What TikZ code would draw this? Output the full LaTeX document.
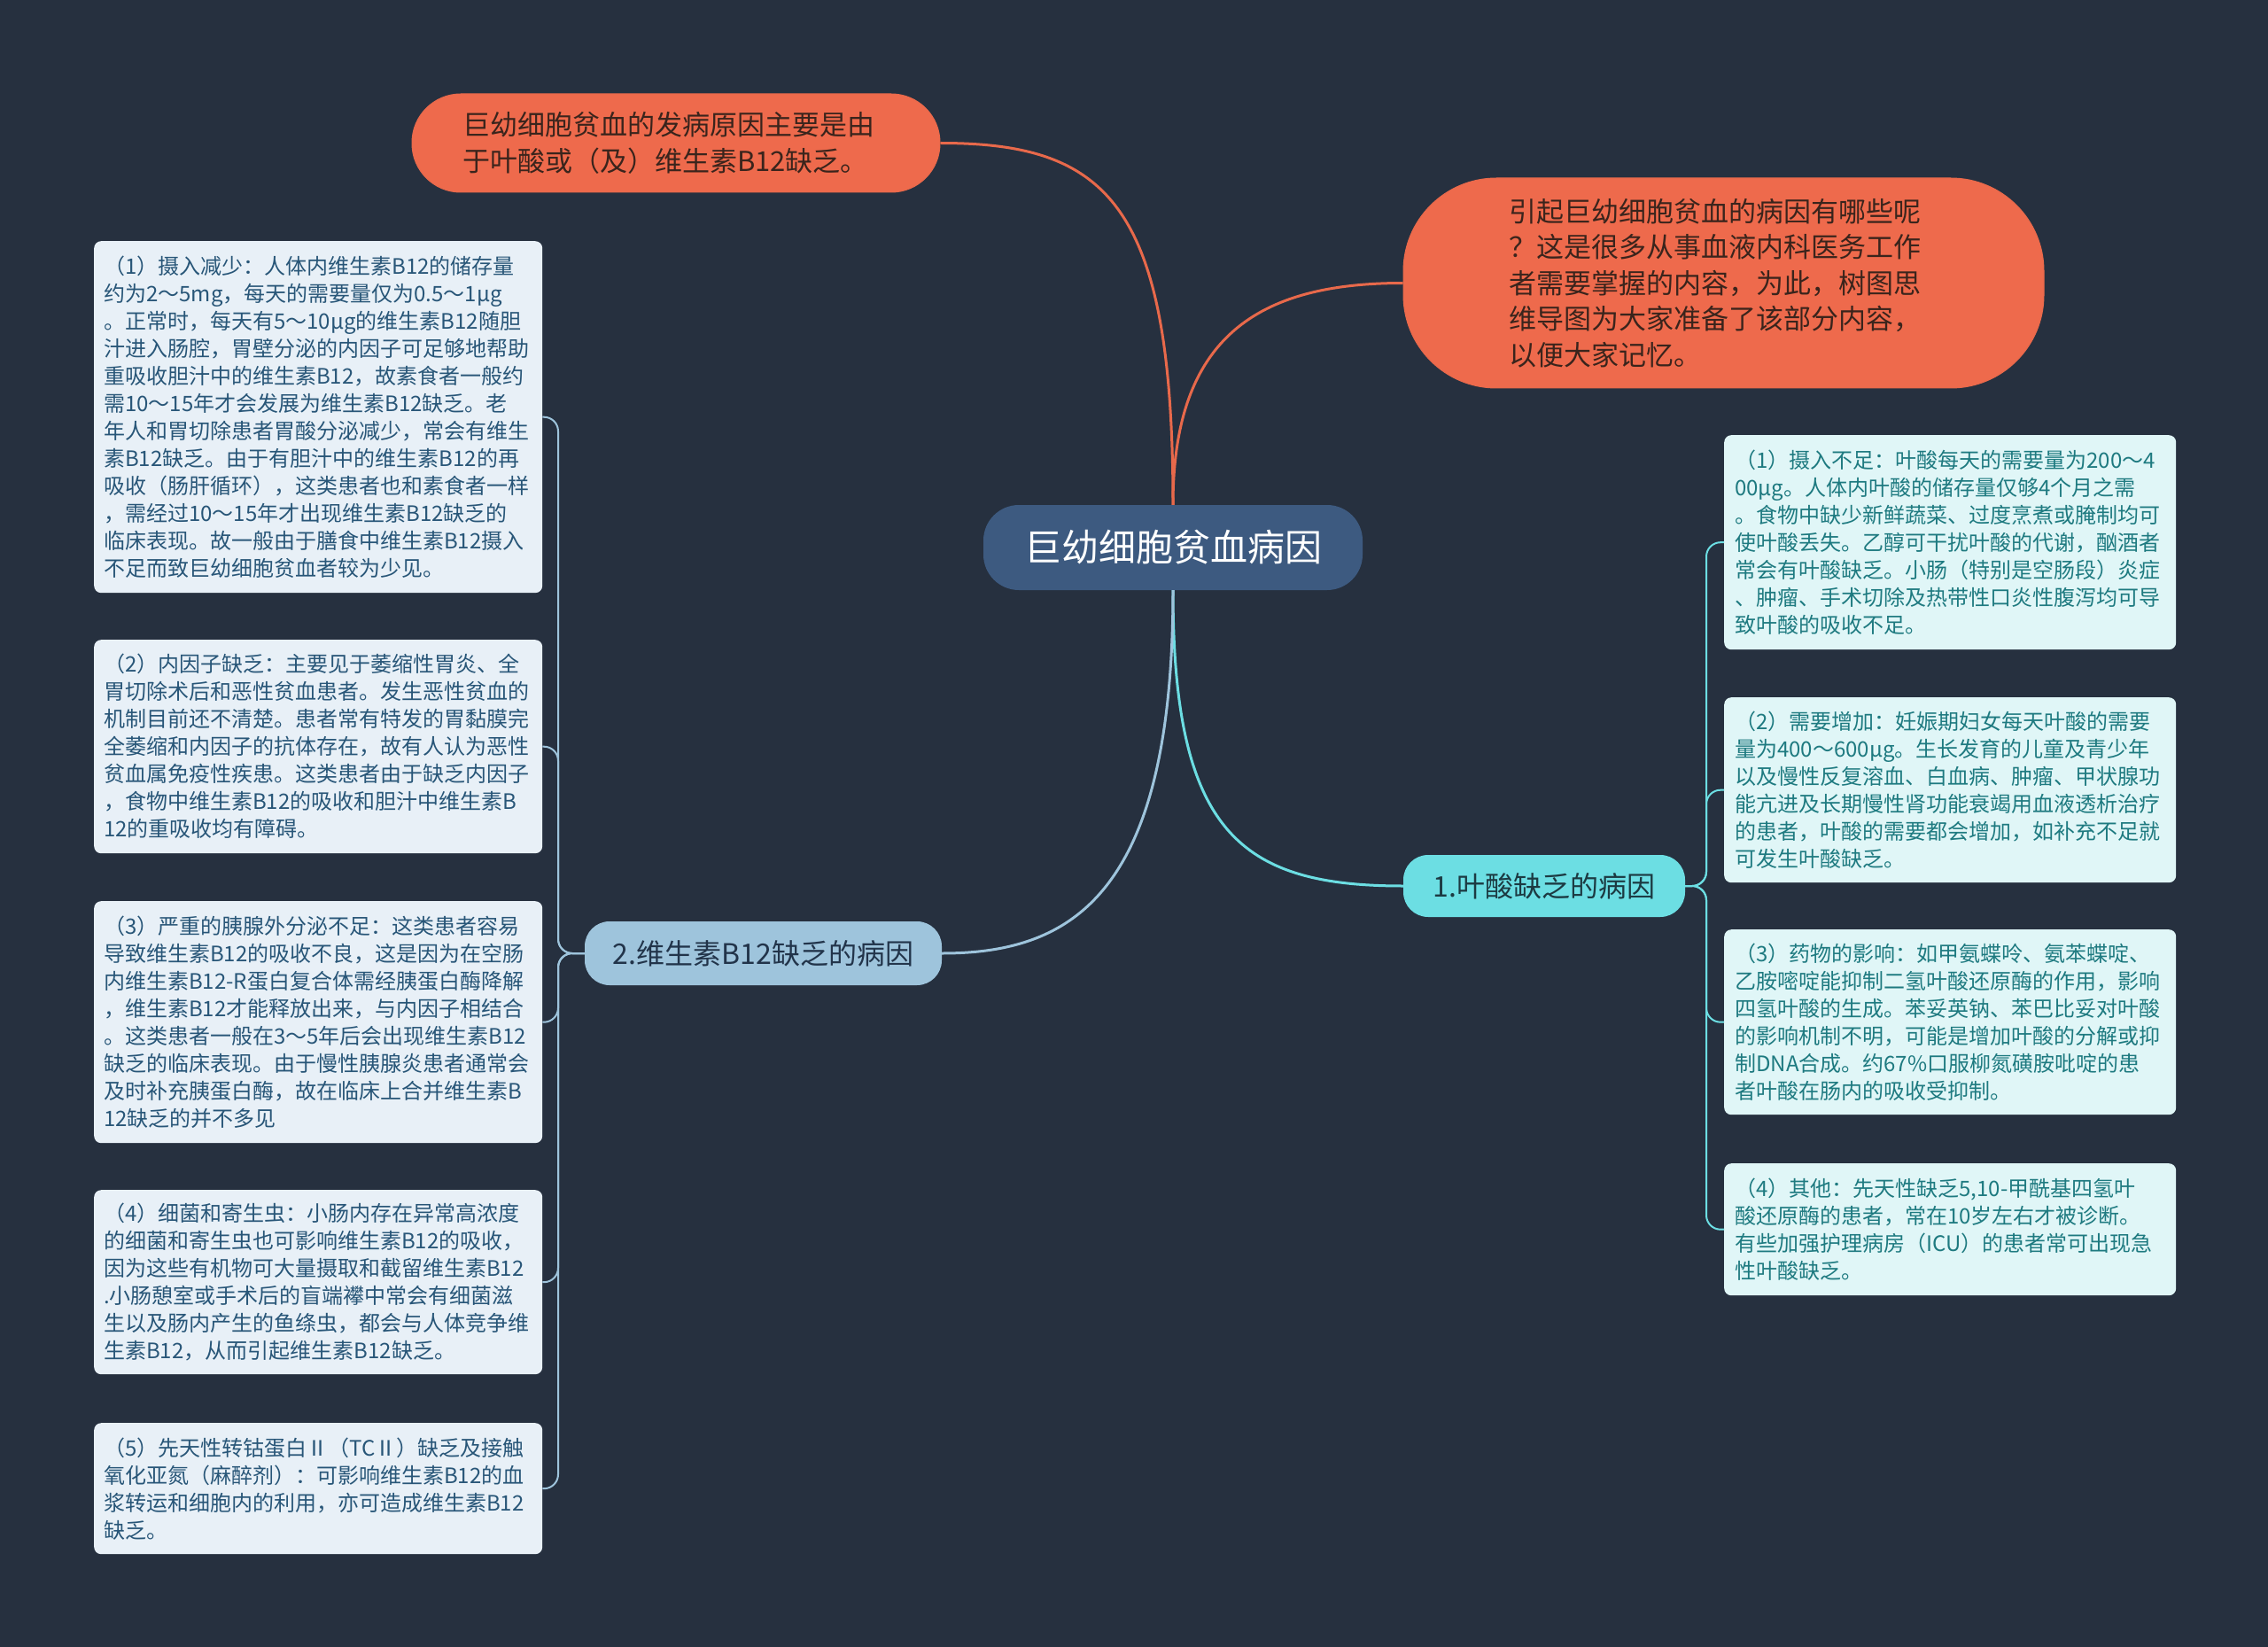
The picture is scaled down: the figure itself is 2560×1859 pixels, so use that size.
\documentclass[tikz,border=0pt]{standalone}
\usepackage{fontspec}
\setmainfont{Noto Sans CJK SC}
\definecolor{bg}{RGB}{38,48,63}
\definecolor{cnode}{RGB}{61,90,128}
\definecolor{onode}{RGB}{238,106,76}
\definecolor{otext}{RGB}{58,36,28}
\definecolor{cyannode}{RGB}{108,222,227}
\definecolor{cyantext}{RGB}{28,58,66}
\definecolor{bluenode}{RGB}{158,196,220}
\definecolor{bluetext}{RGB}{34,52,74}
\definecolor{lfill}{RGB}{232,240,247}
\definecolor{ltext}{RGB}{40,86,120}
\definecolor{rfill}{RGB}{224,246,247}
\definecolor{rtext}{RGB}{30,122,128}
\definecolor{oline}{RGB}{232,105,75}
\definecolor{cline}{RGB}{108,222,227}
\definecolor{bline}{RGB}{158,196,220}
\begin{document}
\begin{tikzpicture}[x=1pt,y=-1pt,
  central/.style={rectangle, rounded corners=40pt, fill=cnode, minimum width=428pt, minimum height=96pt, inner sep=0pt, text=white, font=\fontsize{42}{49}\selectfont},
  orangebox/.style={rectangle, fill=onode, draw=oline, line width=1pt, text=otext, align=left, inner ysep=0pt, font=\fontsize{31}{40.5}\selectfont},
  cyanbox/.style={rectangle, rounded corners=28pt, fill=cyannode, minimum width=318pt, minimum height=70pt, inner sep=0pt, text=cyantext, font=\fontsize{32}{40}\selectfont},
  bluebox/.style={rectangle, rounded corners=28pt, fill=bluenode, minimum width=403pt, minimum height=72pt, inner sep=0pt, text=bluetext, font=\fontsize{32}{40}\selectfont},
  leftbox/.style={rectangle, rounded corners=8pt, fill=lfill, text=ltext, anchor=north west, inner xsep=11pt, inner ysep=0pt, text width=484pt, align=left, font=\fontsize{24}{31}\selectfont},
  rightbox/.style={rectangle, rounded corners=8pt, fill=rfill, text=rtext, anchor=north west, inner xsep=12pt, inner ysep=0pt, text width=486pt, align=left, font=\fontsize{24}{31}\selectfont},
  mainline/.style={line width=3pt},
  subline/.style={line width=2pt, rounded corners=16pt}
]
\fill[bg] (0,0) rectangle (2560,1859);
\useasboundingbox (0,0) rectangle (2560,1859);

\node[central] (C) at (1324,618) {巨幼细胞贫血病因};

\node[orangebox, rounded corners=55pt, minimum height=111pt, inner xsep=57pt, text width=482pt] (TL) at (763,161.5)
{巨幼细胞贫血的发病原因主要是由\\于叶酸或（及）维生素B12缺乏。};

\node[orangebox, rounded corners=105pt, minimum height=237pt, inner xsep=119pt, text width=485pt] (TR) at (1945.5,319.5)
{引起巨幼细胞贫血的病因有哪些呢\\？这是很多从事血液内科医务工作\\者需要掌握的内容，为此，树图思\\维导图为大家准备了该部分内容，\\以便大家记忆。};

\node[cyanbox] (N1) at (1743,1000) {1.叶酸缺乏的病因};
\node[bluebox] (N2) at (861.5,1076) {2.维生素B12缺乏的病因};

% left boxes
\node[leftbox, minimum height=397pt] (L1) at (106,272)
{（1）摄入减少：人体内维生素B12的储存量\\约为2～5mg，每天的需要量仅为0.5～1μg\\。正常时，每天有5～10μg的维生素B12随胆\\汁进入肠腔，胃壁分泌的内因子可足够地帮助\\重吸收胆汁中的维生素B12，故素食者一般约\\需10～15年才会发展为维生素B12缺乏。老\\年人和胃切除患者胃酸分泌减少，常会有维生\\素B12缺乏。由于有胆汁中的维生素B12的再\\吸收（肠肝循环），这类患者也和素食者一样\\，需经过10～15年才出现维生素B12缺乏的\\临床表现。故一般由于膳食中维生素B12摄入\\不足而致巨幼细胞贫血者较为少见。};

\node[leftbox, minimum height=241pt] (L2) at (106,722)
{（2）内因子缺乏：主要见于萎缩性胃炎、全\\胃切除术后和恶性贫血患者。发生恶性贫血的\\机制目前还不清楚。患者常有特发的胃黏膜完\\全萎缩和内因子的抗体存在，故有人认为恶性\\贫血属免疫性疾患。这类患者由于缺乏内因子\\，食物中维生素B12的吸收和胆汁中维生素B\\12的重吸收均有障碍。};

\node[leftbox, minimum height=273pt] (L3) at (106,1017)
{（3）严重的胰腺外分泌不足：这类患者容易\\导致维生素B12的吸收不良，这是因为在空肠\\内维生素B12-R蛋白复合体需经胰蛋白酶降解\\，维生素B12才能释放出来，与内因子相结合\\。这类患者一般在3～5年后会出现维生素B12\\缺乏的临床表现。由于慢性胰腺炎患者通常会\\及时补充胰蛋白酶，故在临床上合并维生素B\\12缺乏的并不多见};

\node[leftbox, minimum height=208pt] (L4) at (106,1343)
{（4）细菌和寄生虫：小肠内存在异常高浓度\\的细菌和寄生虫也可影响维生素B12的吸收，\\因为这些有机物可大量摄取和截留维生素B12\\.小肠憩室或手术后的盲端襻中常会有细菌滋\\生以及肠内产生的鱼绦虫，都会与人体竞争维\\生素B12，从而引起维生素B12缺乏。};

\node[leftbox, minimum height=148pt] (L5) at (106,1606)
{（5）先天性转钴蛋白Ⅱ（TCⅡ）缺乏及接触\\氧化亚氮（麻醉剂）：可影响维生素B12的血\\浆转运和细胞内的利用，亦可造成维生素B12\\缺乏。};

% right boxes
\node[rightbox, minimum height=242pt] (R1) at (1946,491)
{（1）摄入不足：叶酸每天的需要量为200～4\\00μg。人体内叶酸的储存量仅够4个月之需\\。食物中缺少新鲜蔬菜、过度烹煮或腌制均可\\使叶酸丢失。乙醇可干扰叶酸的代谢，酗酒者\\常会有叶酸缺乏。小肠（特别是空肠段）炎症\\、肿瘤、手术切除及热带性口炎性腹泻均可导\\致叶酸的吸收不足。};

\node[rightbox, minimum height=209pt] (R2) at (1946,787)
{（2）需要增加：妊娠期妇女每天叶酸的需要\\量为400～600μg。生长发育的儿童及青少年\\以及慢性反复溶血、白血病、肿瘤、甲状腺功\\能亢进及长期慢性肾功能衰竭用血液透析治疗\\的患者，叶酸的需要都会增加，如补充不足就\\可发生叶酸缺乏。};

\node[rightbox, minimum height=209pt] (R3) at (1946,1049)
{（3）药物的影响：如甲氨蝶呤、氨苯蝶啶、\\乙胺嘧啶能抑制二氢叶酸还原酶的作用，影响\\四氢叶酸的生成。苯妥英钠、苯巴比妥对叶酸\\的影响机制不明，可能是增加叶酸的分解或抑\\制DNA合成。约67\%口服柳氮磺胺吡啶的患\\者叶酸在肠内的吸收受抑制。};

\node[rightbox, minimum height=149pt] (R4) at (1946,1313)
{（4）其他：先天性缺乏5,10-甲酰基四氢叶\\酸还原酶的患者，常在10岁左右才被诊断。\\有些加强护理病房（ICU）的患者常可出现急\\性叶酸缺乏。};

% main connectors
\draw[mainline, oline] (C.north) .. controls (1324,230) and (1250,161.5) .. (TL.east);
\draw[mainline, oline] (C.north) .. controls (1324,380) and (1420,319.5) .. (TR.west);
\draw[mainline, cline] (C.south) .. controls (1324,940) and (1400,1000) .. (N1.west);
\draw[mainline, bline] (C.south) .. controls (1324,1010) and (1210,1076) .. (N2.east);

% sub connectors right
\foreach \b in {R1,R2,R3,R4}
  \draw[subline, cline] (N1.east) -- (1926,1000) |- (\b.west);
% sub connectors left
\foreach \b in {L1,L2,L3,L4,L5}
  \draw[subline, bline] (N2.west) -- (630,1076) |- (\b.east);
\end{tikzpicture}
\end{document}
